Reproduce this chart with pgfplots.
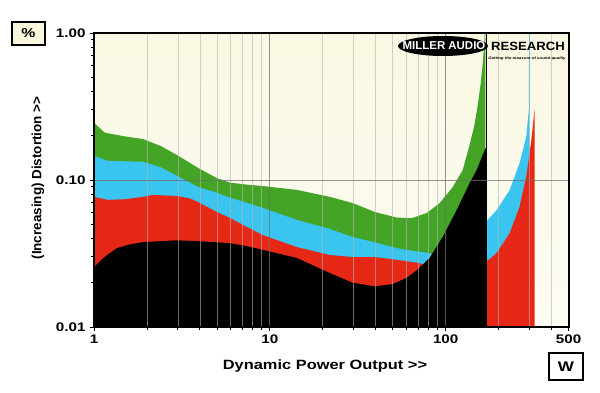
\documentclass[border=0pt]{standalone}
\usepackage{fontspec}
\setmainfont{Liberation Sans}
\usepackage{graphicx}
\usepackage{pgfplots}
\pgfplotsset{compat=1.18}
\definecolor{mgreen}{RGB}{67,164,38}
\definecolor{mcyan}{RGB}{58,196,240}
\definecolor{mred}{RGB}{231,40,22}
\definecolor{creamA}{RGB}{250,247,226}
\definecolor{creamB}{RGB}{253,252,244}
\definecolor{boxcream}{RGB}{250,246,220}
\newcommand\hs[1]{\scalebox{1.22}[1]{#1}}
\begin{document}
\begin{tikzpicture}
\begin{axis}[
 at={(0,0)}, anchor=south west,
 scale only axis, width=474.6bp, height=294bp,
 xmode=log, ymode=log,
 xmin=1, xmax=500, ymin=0.01, ymax=1,
 axis on top,
 axis background/.style={top color=creamA, bottom color=creamB},
 axis line style={line width=2bp, black},
 xtick={1,10,100,500}, xticklabels={\hs{1},\hs{10},\hs{100},\hs{500}},
 minor xtick={2,3,4,5,6,7,8,9,20,30,40,50,60,70,80,90,200,300,400},
 ytick={0.01,0.1,1}, yticklabels={\hs{0.01},\hs{0.10},\hs{1.00}},
 minor ytick={0.02,0.03,0.04,0.05,0.06,0.07,0.08,0.09,0.2,0.3,0.4,0.5,0.6,0.7,0.8,0.9},
 xtick pos=bottom, ytick pos=left,
 tick align=outside,
 major tick length=4bp, minor tick length=3bp,
 tick style={black, line width=0.8bp},
 xmajorgrids, xminorgrids, ymajorgrids,
 major grid style={draw={rgb,255:red,110;green,110;blue,110}, opacity=0.75, line width=0.8bp},
 minor grid style={draw={rgb,255:red,180;green,180;blue,180}, opacity=0.6, line width=0.7bp},
 tick label style={font=\fontsize{12.5}{12.5}\selectfont\bfseries},
 yticklabel style={xshift=-1bp},
]
% green
\addplot[draw=none, fill=mgreen] coordinates {
(1,0.01) (1,0.245) (1.15,0.21) (1.5,0.198) (1.9,0.19) (2.4,0.17) (2.96,0.148) (3.9,0.121) (5.0,0.103) (5.93,0.096) (7.4,0.093) (9.1,0.091) (14.2,0.0857) (21.9,0.0768) (29.6,0.0697) (39.5,0.0606) (52.7,0.0555) (64,0.055) (78,0.0596) (92.5,0.0697) (109.6,0.0894) (125,0.117) (137,0.175) (145,0.23) (152,0.32) (158,0.45) (163,0.65) (167,1.0) (168,1.0) (168,0.01)};
% blue left
\addplot[draw=none, fill=mcyan] coordinates {
(1,0.01) (1,0.146) (1.2,0.135) (1.9,0.133) (2.4,0.122) (2.96,0.107) (3.9,0.0898) (5.0,0.0818) (5.93,0.0759) (7.4,0.070) (9.12,0.0646) (14.2,0.0536) (21.9,0.0465) (29.6,0.0409) (39.5,0.0377) (52.7,0.0344) (64.9,0.033) (80,0.0319) (85,0.031) (85,0.01)};
% blue right
\addplot[draw=none, fill=mcyan] coordinates {
(170,0.01) (170,0.052) (195,0.0625) (231,0.0853) (263,0.13) (287,0.197) (297,0.30) (298,1.0) (300,1.0) (300,0.01)};
% red left
\addplot[draw=none, fill=mred] coordinates {
(1,0.01) (1,0.0768) (1.2,0.0733) (1.5,0.074) (1.9,0.0768) (2.16,0.0791) (2.96,0.0779) (3.5,0.075) (3.9,0.0709) (5.0,0.0605) (5.93,0.0552) (7.4,0.0479) (9.12,0.0422) (14.2,0.035) (21.9,0.0309) (29.6,0.0299) (39.5,0.0299) (50,0.0289) (60,0.028) (71,0.0272) (76,0.0265) (80,0.026) (80,0.01)};
% red right
\addplot[draw=none, fill=mred] coordinates {
(170,0.01) (170,0.0277) (195,0.0319) (231,0.0435) (263,0.0656) (287,0.105) (307,0.187) (320,0.30) (320,0.01)};
% black
\addplot[draw=none, fill=black] coordinates {
(1,0.01) (1,0.0256) (1.15,0.030) (1.35,0.0344) (1.6,0.0365) (1.9,0.0378) (2.96,0.0389) (3.9,0.0384) (5.93,0.0372) (7.4,0.0355) (9.12,0.0335) (14.2,0.0295) (21.9,0.0233) (29.6,0.02) (39.5,0.0189) (50,0.0196) (60,0.0216) (69,0.0245) (81,0.0295) (96,0.0409) (115.5,0.0625) (137,0.0956) (150,0.117) (163,0.15) (169,0.165) (170,0.165) (170,0.01)};
\addplot[black, line width=0.9bp] coordinates {(169.5,0.01) (169.5,1)};
\addplot[mcyan, line width=0.9bp] coordinates {(298.5,0.3) (298.5,1)};
\end{axis}
% logo
\fill[black] (349bp,281bp) ellipse [x radius=45bp, y radius=10bp];
\node[white, font=\fontsize{11.5}{12}\selectfont\bfseries, inner sep=0pt] at (350bp,281bp) {MILLER AUDIO};
\node[black, font=\fontsize{12}{12}\selectfont\bfseries, inner sep=0pt] at (434bp,281bp) {\scalebox{1.1}[1]{RESEARCH}};
\node[black, font=\fontsize{3.6}{4}\selectfont\bfseries\itshape, inner sep=0pt] at (433bp,268bp) {\hs{Getting the measure of sound quality}};
% labels
\node[rotate=90, font=\fontsize{13.5}{14}\selectfont\bfseries, inner sep=0pt] at (-56bp,149bp) {(Increasing) Distortion >{}>};
\node[font=\fontsize{13.5}{14}\selectfont\bfseries, inner sep=0pt] at (231bp,-39bp) {\hs{Dynamic Power Output >{}>}};
\node[draw=black, line width=1.3bp, fill=boxcream, minimum width=33bp, minimum height=23bp, inner sep=0pt, font=\fontsize{13}{13}\selectfont\bfseries] at (-65.5bp,293.5bp) {\hs{\%}};
\node[draw=black, line width=1.3bp, fill=white, minimum width=34bp, minimum height=27bp, inner sep=0pt, font=\fontsize{14}{14}\selectfont\bfseries] at (472bp,-39.5bp) {\hs{W}};
\pgfresetboundingbox
\path[use as bounding box] (-94bp,-66bp) rectangle (506bp,327bp);
\end{tikzpicture}
\end{document}
